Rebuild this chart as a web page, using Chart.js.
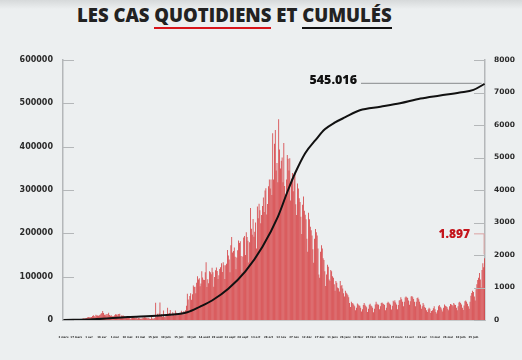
<!DOCTYPE html>
<html lang="fr">
<head>
<meta charset="utf-8">
<script src="https://cdn.jsdelivr.net/npm/chart.js@4.4.1/dist/chart.umd.min.js"></script>
<style>
  html, body { margin: 0; padding: 0; }
  body {
    width: 522px; height: 360px; overflow: hidden; position: relative;
    background: linear-gradient(to bottom, #d6d9da 0px, #eceff0 9px, #eceff0 100%);
  }
  #titre {
    position: absolute; top: 2px; left: 77px; white-space: nowrap;
    font-family: "Open Sans", sans-serif; font-weight: 800; font-size: 18.5px;
    color: #222; letter-spacing: 0px;
  }
  #titre .rouge { border-bottom: 2.5px solid #d7141a; }
  #titre .noir { border-bottom: 2.5px solid #111; }
  #zone { position: absolute; left: 0; top: 0; width: 522px; height: 360px; }
</style>
</head>
<body>
<div id="titre">LES CAS <span class="rouge">QUOTIDIENS</span> ET <span class="noir">CUMULÉS</span></div>
<div id="zone"><canvas id="chartCas"></canvas></div>
<script>
  // cas quotidiens, un tableau par mois (mars 2020 commence le 2)
  var casMars20 = [1, 0, 0, 0, 1, 0, 0, 9, 0, 1, 3, 0, 10, 0, 9, 8, 7, 9, 17, 15, 22, 19, 27, 55, 45, 50, 56, 64, 77, 91];
  var casAvr20 = [96, 74, 83, 90, 125, 147, 120, 91, 159, 141, 137, 131, 144, 158, 190, 215, 275, 219, 162, 150, 181, 127, 184, 223, 157, 128, 146, 112, 114, 118];
  var casMai20 = [150, 174, 166, 140, 186, 181, 189, 92, 139, 131, 139, 125, 110, 92, 91, 76, 61, 70, 43, 29, 58, 109, 75, 68, 59, 56, 84, 41, 60, 55, 37];
  var casJuin20 = [46, 42, 80, 66, 84, 75, 67, 50, 72, 56, 37, 33, 90, 45, 41, 49, 60, 529, 110, 190, 120, 200, 540, 150, 178, 102, 295, 95, 82, 148];
  var casJuil20 = [132, 380, 193, 214, 309, 169, 130, 239, 191, 150, 296, 221, 143, 187, 155, 170, 213, 284, 234, 160, 280, 180, 300, 436, 811, 633, 300, 740, 826, 620, 790];
  var casAout20 = [1063, 1018, 1021, 826, 1144, 1345, 1249, 1283, 1039, 1120, 1499, 1306, 1241, 1230, 1472, 1776, 1018, 1257, 1132, 1499, 1472, 1407, 1609, 1472, 1024, 1325, 1530, 1615, 1508, 1260, 1380];
  var casSept20 = [1567, 1620, 1750, 1480, 1779, 1685, 1262, 1683, 1730, 2157, 1985, 1858, 1469, 2300, 2552, 2080, 2120, 2228, 1950, 1565, 1920, 2145, 2444, 2366, 2424, 1972, 1460, 1953, 2537, 2582];
  var casOct20 = [2000, 2703, 2552, 2439, 1773, 2391, 3445, 2810, 2621, 3107, 2564, 2719, 3000, 2200, 3495, 3130, 3577, 3380, 2980, 3230, 3506, 3768, 3325, 3984, 4052, 3250, 3570, 4115, 4320, 4045, 4320];
  var casNov20 = [3850, 5750, 4320, 5420, 5850, 4600, 4830, 4240, 6180, 5250, 4660, 4900, 5000, 4240, 5450, 4120, 3860, 4320, 5080, 4960, 4600, 4980, 3680, 4350, 4520, 3960, 4400, 4500, 3560, 3230];
  var casDec20 = [4200, 4050, 3750, 3630, 3180, 2650, 3550, 3800, 3360, 3240, 3100, 2500, 2100, 3300, 3100, 2870, 2760, 2600, 2180, 1760, 2500, 2800, 2700, 2600, 2200, 1400, 1300, 2100, 2300, 2200, 1900];
  var casJanv21 = [1850, 1500, 1050, 1400, 1700, 1640, 1250, 1200, 1540, 1500, 1350, 1300, 1100, 900, 1200, 1150, 1000, 980, 880, 1200, 1050, 1080, 970, 820, 720, 900, 840, 810, 760, 700, 520];
  var casFevr21 = [400, 560, 520, 510, 470, 420, 300, 380, 510, 480, 450, 440, 380, 260, 330, 460, 520, 470, 430, 390, 250, 350, 470, 500, 450, 420, 380, 240];
  var casMars21 = [350, 480, 560, 500, 480, 470, 330, 420, 520, 540, 510, 490, 460, 300, 380, 520, 560, 530, 500, 470, 320, 440, 590, 560, 610, 540, 480, 330, 460, 600, 615];
  var casAvr21 = [700, 640, 560, 420, 560, 690, 720, 700, 680, 600, 470, 580, 720, 740, 700, 650, 560, 420, 560, 680, 690, 640, 560, 480, 350, 420, 520, 470, 400, 370];
  var casMai21 = [300, 250, 330, 380, 350, 215, 280, 300, 360, 420, 330, 250, 200, 300, 420, 460, 410, 380, 320, 260, 380, 480, 440, 420, 400, 350, 300, 420, 490, 480, 460];
  var casJuin21 = [420, 520, 480, 460, 380, 300, 420, 540, 560, 520, 480, 380, 310, 450, 580, 600, 560, 500, 420, 350, 560, 750, 830, 900, 860, 720, 600, 950, 1100, 1230];
  var casJuil21 = [1300, 1450, 1250, 1000, 1540, 1750, 1620, 1897];

  var nomsMois = ['mars', 'avr', 'mai', 'juin', 'juil', 'août', 'sept', 'oct', 'nov', 'déc', 'janv', 'févr', 'mars', 'avr', 'mai', 'juin', 'juil'];
  var casParMois = [casMars20, casAvr20, casMai20, casJuin20, casJuil20, casAout20, casSept20, casOct20, casNov20, casDec20,
                    casJanv21, casFevr21, casMars21, casAvr21, casMai21, casJuin21, casJuil21];

  // cumul : jour (depuis le 2 mars 2020) et total
  var joursCumul = [0, 35, 75, 113, 145, 160, 174, 193, 213, 233, 251, 263, 271, 283, 295, 306, 318, 330, 347, 371, 394, 418, 441, 464, 480, 493];
  var valeursCumul = [1, 1500, 6800, 10500, 18000, 31000, 45000, 72000, 112000, 169000, 238000, 300000, 338000, 385000, 415000, 440000, 456000, 468000, 484000, 492000, 500000, 511000, 518000, 525000, 531000, 545016];

  var totalCumul = 545016;
  var dernierQuotidien = 1897;

  // rotulos (jour + mois) et série quotidienne
  var rotulos = [];
  var casQuotidiens = [];
  casParMois.forEach(function (arr, m) {
    arr.forEach(function (v, i) {
      rotulos.push((m === 0 ? i + 2 : i + 1) + ' ' + nomsMois[m]);
      casQuotidiens.push(v);
    });
  });
  var cumul = rotulos.map(function () { return null; });
  joursCumul.forEach(function (j, i) { cumul[j] = valeursCumul[i]; });

  var decor = {
    id: 'decor',
    afterDatasetsDraw: function (chart) {
      var ctx = chart.ctx;
      var sx = chart.scales.x, yC = chart.scales.yCumul, yQ = chart.scales.yQuot;
      ctx.save();
      ctx.strokeStyle = '#b4b7b9';
      ctx.lineWidth = 1;
      yC.ticks.forEach(function (t) {
        var py = Math.round(yC.getPixelForValue(t.value)) + 0.5;
        ctx.beginPath(); ctx.moveTo(yC.right, py); ctx.lineTo(yC.right + 11, py); ctx.stroke();
      });
      yQ.ticks.forEach(function (t) {
        var py = Math.round(yQ.getPixelForValue(t.value)) + 0.5;
        ctx.beginPath(); ctx.moveTo(yQ.left, py); ctx.lineTo(yQ.left - 11, py); ctx.stroke();
      });

      var n = rotulos.length - 1;
      var px = sx.getPixelForValue(n);
      // 545.016
      var pyC = yC.getPixelForValue(totalCumul);
      ctx.strokeStyle = '#9a9d9f';
      ctx.lineWidth = 1.2;
      ctx.beginPath(); ctx.moveTo(361, pyC - 0.5); ctx.lineTo(px - 3, pyC - 0.5); ctx.stroke();
      ctx.fillStyle = '#111';
      ctx.font = '800 12.5px "Open Sans"';
      ctx.textAlign = 'right';
      ctx.textBaseline = 'alphabetic';
      ctx.fillText('545.016', 357, pyC + 0.5);
      // 1.897
      var pyQ = yQ.getPixelForValue(dernierQuotidien);
      ctx.strokeStyle = '#dba3a3';
      ctx.lineWidth = 1;
      ctx.beginPath(); ctx.moveTo(474, pyQ - 24.5); ctx.lineTo(px - 0.5, pyQ - 24.5); ctx.lineTo(px - 0.5, pyQ - 4); ctx.stroke();
      ctx.fillStyle = '#c4141b';
      ctx.font = '800 12px "Open Sans"';
      ctx.fillText('1.897', 470, pyQ - 20);
      ctx.restore();
    }
  };

  var ctxCas = document.getElementById('chartCas').getContext('2d');
  var configCas = {
    type: 'bar',
    data: {
      labels: rotulos,
      datasets: [
        {
          type: 'line',
          label: 'Cumul',
          data: cumul,
          yAxisID: 'yCumul',
          borderColor: '#111',
          borderWidth: 2,
          pointRadius: 0,
          cubicInterpolationMode: 'monotone',
          spanGaps: true,
          order: 0
        },
        {
          label: 'Quotidiens',
          data: casQuotidiens,
          yAxisID: 'yQuot',
          backgroundColor: '#d53a3d',
          barPercentage: 0.92,
          categoryPercentage: 1,
          order: 1
        }
      ]
    },
    options: {
      responsive: true,
      maintainAspectRatio: false,
      animation: false,
      layout: { padding: { top: 60, left: 0, right: 0, bottom: 0 } },
      plugins: { legend: { display: false }, tooltip: { enabled: false } },
      scales: {
        x: {
          grid: { display: false, drawTicks: false },
          border: { display: true, color: '#c6c9ca', width: 1 },
          ticks: {
            color: '#222', font: { size: 2.6, family: 'DejaVu Sans', weight: 'bold' },
            maxRotation: 0, autoSkip: true, autoSkipPadding: 0, padding: 16
          },
          afterFit: function (s) { s.height = 40; }
        },
        yCumul: {
          position: 'left',
          min: 0, max: 600000,
          grid: { display: false, drawTicks: false },
          border: { display: true, color: '#b4b7b9', width: 1.5 },
          ticks: {
            stepSize: 100000, padding: 10, color: '#2a2a2a',
            font: { size: 8, family: 'DejaVu Sans', weight: 'bold' },
            callback: function (v) { return String(v); }
          },
          afterFit: function (s) { s.width = 63; }
        },
        yQuot: {
          position: 'right',
          min: 0, max: 8000,
          grid: { display: false, drawTicks: false },
          border: { display: true, color: '#b4b7b9', width: 1.5 },
          ticks: {
            stepSize: 1000, padding: 9, color: '#2a2a2a',
            font: { size: 7.5, family: 'DejaVu Sans', weight: 'bold' },
            callback: function (v) { return String(v); }
          },
          afterFit: function (s) { s.width = 37; }
        }
      }
    },
    plugins: [decor]
  };
  var chartCas = new Chart(ctxCas, configCas);
</script>
</body>
</html>
